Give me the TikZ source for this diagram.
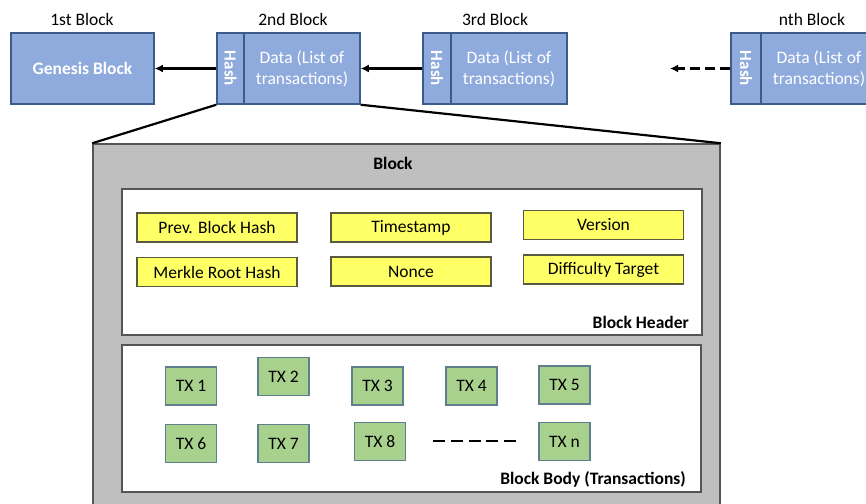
\documentclass[tikz,border=0pt]{standalone}
\usepackage{fontspec}
\setmainfont{Carlito}
\usetikzlibrary{arrows.meta}
\definecolor{blueF}{HTML}{8FAADC}
\definecolor{blueD}{HTML}{3B5B8C}
\definecolor{grayF}{HTML}{BFBFBF}
\definecolor{grayD}{HTML}{555555}
\definecolor{yelF}{HTML}{FFFF66}
\definecolor{yelD}{HTML}{5A5A40}
\definecolor{grnF}{HTML}{A9D18E}
\definecolor{grnD}{HTML}{5F7F8F}
\tikzset{
  txt/.style={font=\fontsize{17.5}{21}\selectfont, inner sep=0pt},
  bluebox/.style={txt, draw=blueD, fill=blueF, line width=1.5pt, text=white, minimum height=71pt, align=center},
  hashbox/.style={bluebox, font=\fontsize{17}{19}\selectfont\bfseries, rotate=-90, minimum height=27pt, minimum width=71pt},
  yelbox/.style={txt, draw=yelD, fill=yelF, line width=1.5pt, minimum width=160pt, minimum height=29pt},
  txbox/.style={txt, draw=grnD, fill=grnF, line width=1.5pt, minimum width=51pt, minimum height=38pt},
  whitebox/.style={draw=grayD, fill=white, line width=2pt},
  arr/.style={line width=2.5pt, -{Latex[length=8pt,width=8pt]}},
}
\begin{document}
\begin{tikzpicture}[x=1pt,y=-1pt]
\useasboundingbox (0,0) rectangle (866,503);
\clip (0,0) rectangle (866,503);
\fill[white] (0,0) rectangle (866,503);

% top chain
\node[bluebox, font=\fontsize{17.5}{21}\selectfont\bfseries, minimum width=143pt] (genesis) at (82.5,68.5) {Genesis Block};
\node[hashbox, minimum height=27pt] (hash2) at (230.5,68.5) {Hash};
\node[bluebox, minimum width=116pt] (data2) at (302,68.5) {Data (List of\\transactions)};
\node[hashbox, minimum height=28pt] (hash3) at (437,68.5) {Hash};
\node[bluebox, minimum width=116pt] (data3) at (509,68.5) {Data (List of\\transactions)};
\node[hashbox, minimum height=30pt] (hashn) at (746,68.5) {Hash};
\node[bluebox, minimum width=116pt] (datan) at (819,68.5) {Data (List of\\transactions)};

\node[txt] (l1) at (82,19) {1st Block};
\node[txt] (l2) at (293,19) {2nd Block};
\node[txt] (l3) at (495,19) {3rd Block};
\node[txt] (ln) at (812,19) {nth Block};

% the hash nodes are turned a quarter clockwise: their south anchor faces left
\draw[arr] (hash2.south) -- (genesis.east);
\draw[arr] (hash3.south) -- (data2.east);
\coordinate (dashend) at (670,68.5);
\draw[arr, dash pattern=on 10pt off 5pt] (hashn.south) -- (dashend);

% big block
\node[draw=grayD, fill=grayF, line width=1.5pt, minimum width=627pt, minimum height=420pt, inner sep=0pt] (block) at (406.5,354) {};
\draw[line width=2.2pt] (hash2.south east) -- (block.north west);
\draw[line width=2.2pt] (data2.south east) -- (block.north east);
\node[txt, font=\fontsize{17.5}{21}\selectfont\bfseries] (blocklbl) at (393,163) {Block};

% header
\node[whitebox, minimum width=580pt, minimum height=146pt, inner sep=0pt] (header) at (412,262) {};
\node[txt, font=\fontsize{17.5}{21}\selectfont\bfseries, anchor=east] (headerlbl) at (689,322) {Block Header};
\node[yelbox] (prev) at (217,227.5) {Prev. Block Hash};
\node[yelbox] (merkle) at (217,272) {Merkle Root Hash};
\node[yelbox] (time) at (411,227.5) {Timestamp};
\node[yelbox] (nonce) at (411,271.5) {Nonce};
\node[yelbox] (version) at (603.5,225) {Version};
\node[yelbox] (diff) at (603.5,269.5) {Difficulty Target};

% body
\node[whitebox, minimum width=579pt, minimum height=147pt, inner sep=0pt] (body) at (411.5,418.5) {};
\node[txt, font=\fontsize{17.5}{21}\selectfont\bfseries, anchor=east] (bodylbl) at (686,479) {Block Body (Transactions)};
\node[txbox] (tx1) at (191,386) {TX 1};
\node[txbox] (tx2) at (283.5,376.5) {TX 2};
\node[txbox] (tx3) at (377.5,386) {TX 3};
\node[txbox] (tx4) at (471.5,386) {TX 4};
\node[txbox] (tx5) at (564.5,385) {TX 5};
\node[txbox] (tx6) at (191,443.5) {TX 6};
\node[txbox] (tx7) at (283.5,443.5) {TX 7};
\node[txbox] (tx8) at (380,441.5) {TX 8};
\node[txbox] (txn) at (564.5,441.5) {TX n};
\coordinate (dA) at (433,441);
\coordinate (dB) at (516,441);
\draw[line width=2.8pt, dash pattern=on 12pt off 5.75pt] (dA) -- (dB);
\end{tikzpicture}
\end{document}
